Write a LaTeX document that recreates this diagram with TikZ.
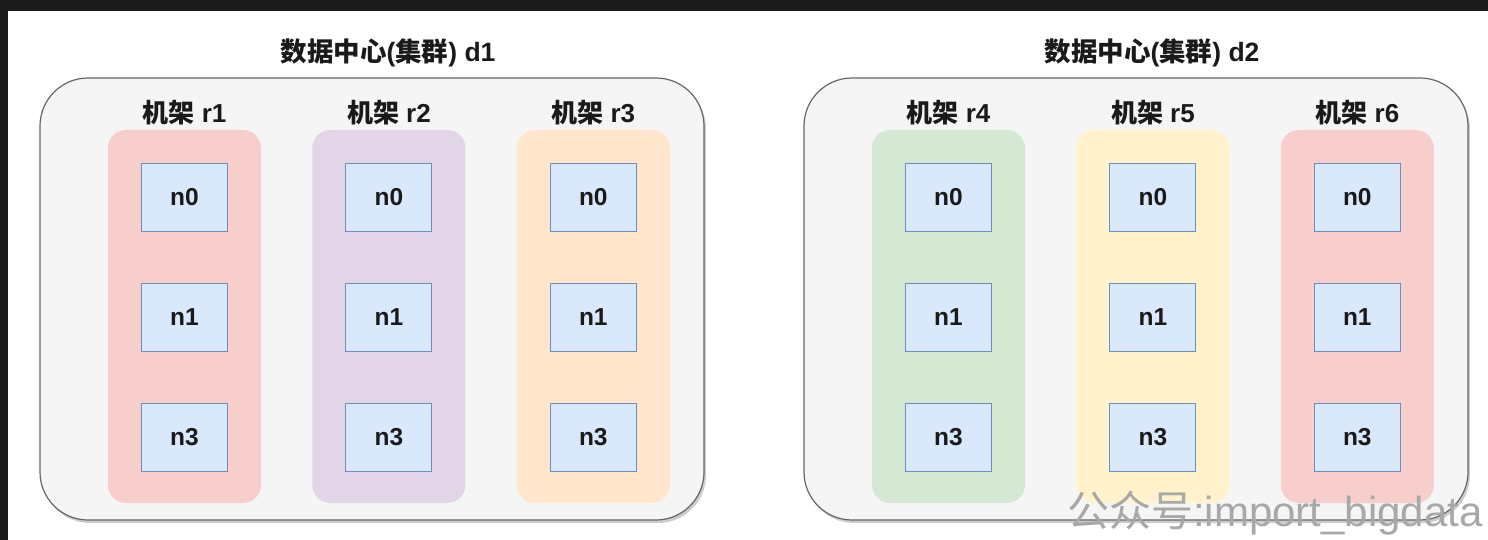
\documentclass[tikz,border=0pt]{standalone}
\usepackage{fontspec}
\setmainfont{Liberation Sans}
\newfontfamily\cjk{Noto Sans CJK SC}
\usetikzlibrary{positioning, shadows}

\definecolor{dcfill}{HTML}{F5F5F5}
\definecolor{dcline}{HTML}{666666}
\definecolor{nodefill}{HTML}{DAE8FC}
\definecolor{nodeline}{HTML}{6C8EBF}
\definecolor{rackred}{HTML}{F8CECC}
\definecolor{rackpurple}{HTML}{E1D5E7}
\definecolor{rackorange}{HTML}{FFE6CC}
\definecolor{rackgreen}{HTML}{D5E8D4}
\definecolor{rackyellow}{HTML}{FFF2CC}
\definecolor{scrbar}{HTML}{1B1B1B}
\definecolor{marktext}{HTML}{A8A8A8}
\definecolor{lbltext}{HTML}{1A1A1A}

\tikzset{
	dcbox/.style={draw=dcline, fill=dcfill, line width=1.2pt, rounded corners=48pt, minimum width=664pt, minimum height=442pt, drop shadow={shadow xshift=2pt, shadow yshift=-3pt, opacity=0.4, fill=black!50}},
	rackbox/.style={fill=#1, rounded corners=18pt, minimum width=153pt, minimum height=373pt},
	nodebox/.style={draw=nodeline, fill=nodefill, line width=1pt, minimum width=86pt, minimum height=68pt, text=lbltext, font=\fontsize{24.5}{28}\selectfont\bfseries},
	racklabel/.style={text=lbltext, font=\fontsize{26}{30}\selectfont\bfseries, inner sep=2pt},
	dclabel/.style={text=lbltext, font=\fontsize{26.5}{30}\selectfont\bfseries}
}

\begin{document}
\begin{tikzpicture}[x=1pt, y=-1pt]
		\useasboundingbox (0,0) rectangle (1488,540);
		\fill [scrbar] (0,0) rectangle (1488,11);
		\fill [scrbar] (0,0) rectangle (8,540);
		
		\node [dcbox] (d1) at (372,299) {};
		\node [dcbox] (d2) at (1136,299) {};
		\node [dclabel] (d1lbl) at (388,53) {{\cjk 数据中心}({\cjk 集群}) d1};
		\node [dclabel] (d2lbl) at (1152,53) {{\cjk 数据中心}({\cjk 集群}) d2};
		
		\node [rackbox=rackred] (r1) at (184.5,316.5) {};
		\node [rackbox=rackpurple, right= 51pt of r1] (r2) {};
		\node [rackbox=rackorange, right= 51pt of r2] (r3) {};
		\node [rackbox=rackgreen] (r4) at (948.5,316.5) {};
		\node [rackbox=rackyellow, right= 51pt of r4] (r5) {};
		\node [rackbox=rackred, right= 51pt of r5] (r6) {};
		
		\node [racklabel, above= 3pt of r1] (r1lbl) {{\cjk 机架} r1};
		\node [racklabel, above= 3pt of r2] (r2lbl) {{\cjk 机架} r2};
		\node [racklabel, above= 3pt of r3] (r3lbl) {{\cjk 机架} r3};
		\node [racklabel, above= 3pt of r4] (r4lbl) {{\cjk 机架} r4};
		\node [racklabel, above= 3pt of r5] (r5lbl) {{\cjk 机架} r5};
		\node [racklabel, above= 3pt of r6] (r6lbl) {{\cjk 机架} r6};
		
		\node [nodebox, below= 33pt of r1.north] (r1n0) {n0};
		\node [nodebox, below= 51pt of r1n0] (r1n1) {n1};
		\node [nodebox, below= 51pt of r1n1] (r1n3) {n3};
		\node [nodebox, below= 33pt of r2.north] (r2n0) {n0};
		\node [nodebox, below= 51pt of r2n0] (r2n1) {n1};
		\node [nodebox, below= 51pt of r2n1] (r2n3) {n3};
		\node [nodebox, below= 33pt of r3.north] (r3n0) {n0};
		\node [nodebox, below= 51pt of r3n0] (r3n1) {n1};
		\node [nodebox, below= 51pt of r3n1] (r3n3) {n3};
		\node [nodebox, below= 33pt of r4.north] (r4n0) {n0};
		\node [nodebox, below= 51pt of r4n0] (r4n1) {n1};
		\node [nodebox, below= 51pt of r4n1] (r4n3) {n3};
		\node [nodebox, below= 33pt of r5.north] (r5n0) {n0};
		\node [nodebox, below= 51pt of r5n0] (r5n1) {n1};
		\node [nodebox, below= 51pt of r5n1] (r5n3) {n3};
		\node [nodebox, below= 33pt of r6.north] (r6n0) {n0};
		\node [nodebox, below= 51pt of r6n0] (r6n1) {n1};
		\node [nodebox, below= 51pt of r6n1] (r6n3) {n3};
		
		\node [text=marktext, font=\fontsize{42}{46}\selectfont] (mark) at (1275,513) {{\cjk 公众号}:import\_bigdata};
	\end{tikzpicture}
\end{document}
